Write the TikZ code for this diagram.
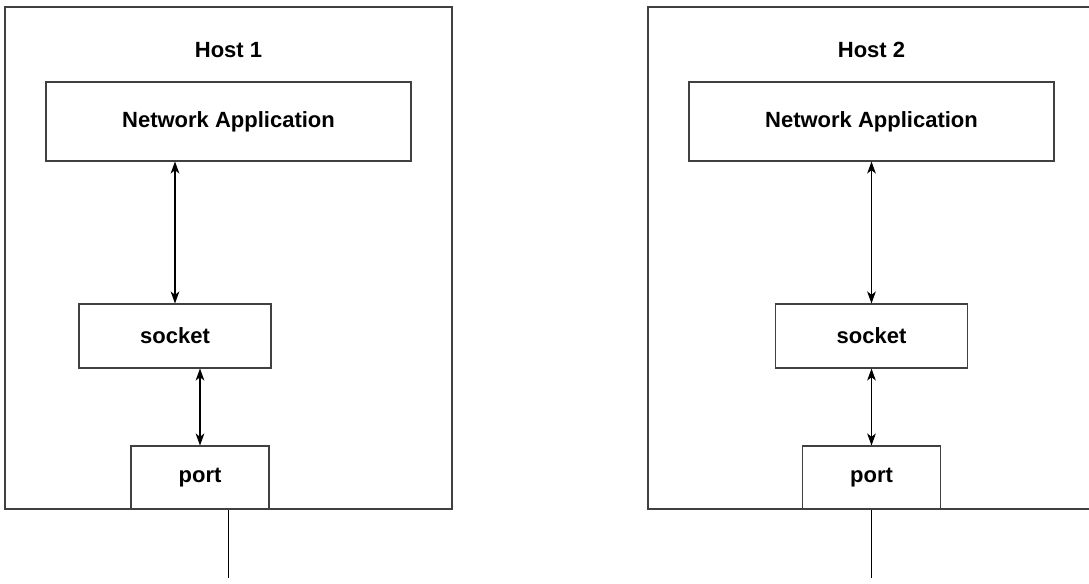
\documentclass[tikz,border=0pt]{standalone}
\usepackage{fontspec}
\setmainfont{Liberation Sans}
\usetikzlibrary{arrows.meta}
\tikzset{
	x=0.75pt,y=0.75pt,
	label/.style={font=\bfseries\fontsize{16.5}{18}\selectfont},
	box/.style={label,draw=black!75,line width=0.8pt,rectangle,inner sep=0pt},
	hostbox/.style={box,minimum width=335.25pt,minimum height=376.5pt},
	link/.style={line width=0.8pt,{Stealth[length=9pt,width=6.5pt,inset=2.5pt]}-{Stealth[length=9pt,width=6.5pt,inset=2.5pt]}},
	wire/.style={line width=0.8pt}
}
\begin{document}
\begin{tikzpicture}
				\clip (0,0) rectangle (1089,-583);
				\node[hostbox] (host1) at (228.5,-258){};
				\node[hostbox] (host2) at (871.5,-258){};
				\node[label] (title1) at (228.5,-50){Host 1};
				\node[label] (title2) at (871.5,-50){Host 2};
				\node[box,minimum width=273.75pt,minimum height=59.25pt] (app1) at (228.5,-121.5){Network Application};
				\node[box,minimum width=273.75pt,minimum height=59.25pt] (app2) at (871.5,-121.5){Network Application};
				\node[box,minimum width=144pt,minimum height=48pt] (sock1) at (175,-336){socket};
				\node[box,minimum width=144pt,minimum height=48pt] (sock2) at (871.5,-336){socket};
				\node[box,minimum width=103.5pt,minimum height=47.25pt] (port1) at (200,-477.5){port};
				\node[box,minimum width=103.5pt,minimum height=47.25pt] (port2) at (871.5,-477.5){port};
				\coordinate (end1) at (228.5,-578);
				\coordinate (end2) at (871.5,-578);
				\draw[link](app1.south -| sock1)--(sock1.north);
				\draw[link](app2.south)--(sock2.north);
				\draw[link](sock1.south -| port1)--(port1.north);
				\draw[link](sock2.south)--(port2.north);
				\draw[wire](host1.south)--(end1);
				\draw[wire](host2.south)--(end2);
				\end{tikzpicture}
\end{document}
